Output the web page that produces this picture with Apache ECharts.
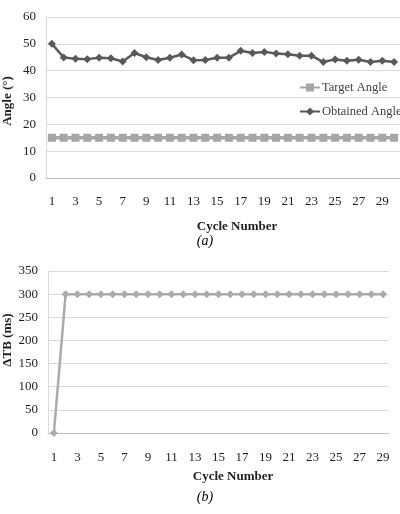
<!DOCTYPE html>
<html>
<head>
<meta charset="utf-8">
<script src="https://cdn.jsdelivr.net/npm/echarts@6/dist/echarts.min.js"></script>
<style>
  html, body { margin: 0; padding: 0; background: #fff; }
  #chart { width: 400px; height: 514px; }
</style>
</head>
<body>
<div id="chart"></div>
<script>
// chart (a)
var cyclesA = [];
for (var i = 1; i <= 30; i++) cyclesA.push(String(i));
var targetAngle = [15, 15, 15, 15, 15, 15, 15, 15, 15, 15, 15, 15, 15, 15, 15,
                   15, 15, 15, 15, 15, 15, 15, 15, 15, 15, 15, 15, 15, 15, 15];
var obtainedAngle = [50, 44.9, 44.4, 44.3, 44.8, 44.6, 43.4, 46.6, 45, 44,
                     44.8, 46, 43.9, 44, 44.8, 44.8, 47.4, 46.6, 47, 46.4,
                     46.1, 45.6, 45.6, 43.2, 44.2, 43.7, 44.1, 43.2, 43.7, 43.2];

// chart (b)
var cyclesB = [];
for (var j = 1; j <= 29; j++) cyclesB.push(String(j));
var deltaTB = [0, 300, 300, 300, 300, 300, 300, 300, 300, 300,
               300, 300, 300, 300, 300, 300, 300, 300, 300, 300,
               300, 300, 300, 300, 300, 300, 300, 300, 300];

var serif = "'Liberation Serif', 'Times New Roman', serif";
var txt = { fontFamily: serif, fontSize: 13, color: '#1f1f1f' };

function catAxis(idx, data, margin) {
    return {
        type: 'category', gridIndex: idx, data: data, boundaryGap: true,
        axisTick: { show: false },
        axisLine: { lineStyle: { color: '#bfbfbf' } },
        axisLabel: Object.assign({ interval: 1, margin: margin }, txt)
    };
}
function valAxis(idx, max, step) {
    return {
        type: 'value', gridIndex: idx, min: 0, max: max, interval: step,
        axisLine: { show: true, lineStyle: { color: '#d9d9d9' } },
        axisTick: { show: false },
        splitLine: { lineStyle: { color: '#d9d9d9' } },
        axisLabel: Object.assign({ margin: 10 }, txt)
    };
}
function title(text, x, y, rot, extra) {
    return {
        type: 'text', x: x, y: y, rotation: rot,
        style: Object.assign({ text: text, fontFamily: serif, fontSize: 13,
            fill: '#1f1f1f', align: 'center', verticalAlign: 'middle' }, extra)
    };
}

var chart = echarts.init(document.getElementById('chart'));
chart.setOption({
    animation: false,
    grid: [
        { left: 46, top: 17, width: 355, height: 161 },
        { left: 48, top: 271, width: 341, height: 162 }
    ],
    legend: {
        orient: 'vertical', left: 294, top: 76,
        itemWidth: 20, itemHeight: 10, itemGap: 11,
        textStyle: { fontFamily: serif, fontSize: 12.5, color: '#404040', padding: [0, 0, 0, -3] },
        data: ['Target Angle', 'Obtained Angle']
    },
    xAxis: [catAxis(0, cyclesA, 17), catAxis(1, cyclesB, 18)],
    yAxis: [valAxis(0, 60, 10), valAxis(1, 350, 50)],
    series: [
        {
            name: 'Target Angle', type: 'line', xAxisIndex: 0, yAxisIndex: 0,
            data: targetAngle, symbol: 'rect', symbolSize: 8, showAllSymbol: true,
            itemStyle: { color: '#a6a6a6' },
            lineStyle: { color: '#a6a6a6', width: 3.5 }
        },
        {
            name: 'Obtained Angle', type: 'line', xAxisIndex: 0, yAxisIndex: 0,
            data: obtainedAngle, symbol: 'diamond', symbolSize: 8, showAllSymbol: true,
            itemStyle: { color: '#595959' },
            lineStyle: { color: '#595959', width: 2.5 }
        },
        {
            name: 'ΔTB', type: 'line', xAxisIndex: 1, yAxisIndex: 1,
            data: deltaTB, symbol: 'diamond', symbolSize: 8, showAllSymbol: true,
            itemStyle: { color: '#ababab' },
            lineStyle: { color: '#ababab', width: 2.5 }
        }
    ],
    graphic: [
        title('Angle (°)', 8, 101, Math.PI / 2, { fontWeight: 'bold' }),
        title('Cycle Number', 237, 227, 0, { fontWeight: 'bold' }),
        title('(a)', 205, 241, 0, { fontSize: 14, fontStyle: 'italic', fill: '#000' }),
        title('ΔTB (ms)', 8, 340, Math.PI / 2, { fontWeight: 'bold' }),
        title('Cycle Number', 233, 477, 0, { fontWeight: 'bold' }),
        title('(b)', 205, 497, 0, { fontSize: 14, fontStyle: 'italic', fill: '#000' })
    ]
});
window.addEventListener('resize', function () { chart.resize(); });
</script>
</body>
</html>
